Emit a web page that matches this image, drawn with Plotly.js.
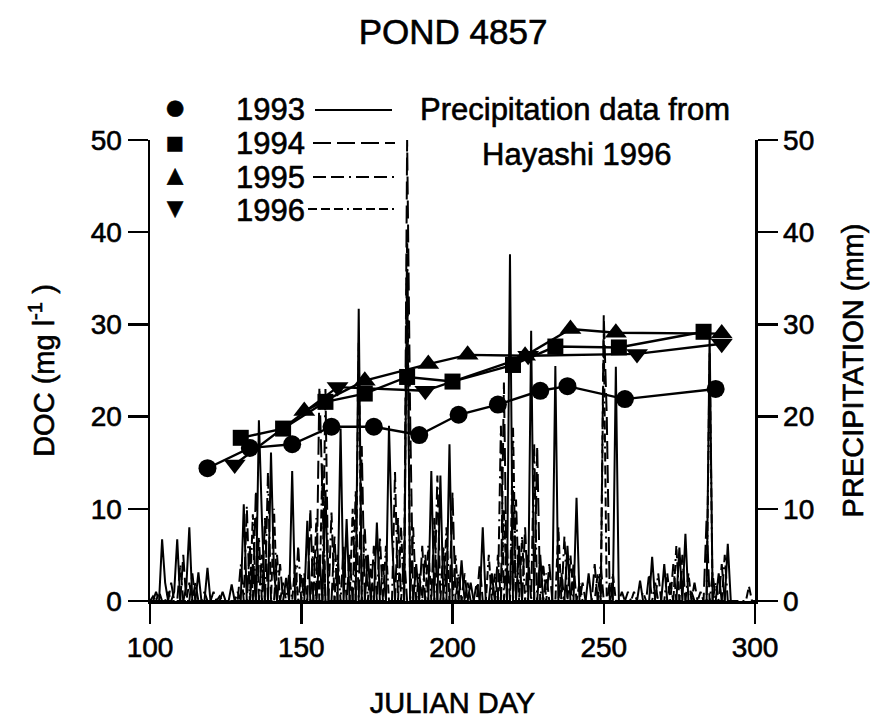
<!DOCTYPE html>
<html><head><meta charset="utf-8">
<script src="https://cdn.plot.ly/plotly-3.0.1.min.js"></script>
<style>html,body{margin:0;padding:0;background:#fff}
#chart svg text{stroke:#000;stroke-width:0.6px;}</style>
</head><body>
<div id="chart" style="width:872px;height:728px"></div>
<script>
// ---- DOC (mg/l) by Julian day ----
const doc1993Day = [119, 133, 147, 160, 174, 189, 202, 215, 229, 238, 257, 287];
const doc1993Val = [14.4, 16.6, 17.0, 18.9, 18.9, 18.0, 20.2, 21.3, 22.8, 23.3, 21.9, 23.0];
const doc1994Day = [130, 144, 158, 171, 185, 200, 220, 234, 255, 283];
const doc1994Val = [17.7, 18.7, 21.6, 22.5, 24.3, 23.8, 25.6, 27.6, 27.5, 29.2];
const doc1995Day = [151, 171, 192, 205, 224, 239, 254, 289];
const doc1995Val = [20.6, 23.9, 25.7, 26.7, 26.6, 29.5, 29.1, 29.0];
const doc1996Day = [128, 162, 191, 225, 261, 289];
const doc1996Val = [14.8, 23.2, 22.8, 26.6, 26.8, 27.9];

// ---- Daily precipitation (mm), rain days only (Hayashi 1996) ----
const rain1993Day = [104,105,108,109,112,113,116,119,127,131,134,136,137,140,141,145,147,152,156,158,163,165,169,172,175,179,180,185,188,193,196,199,203,206,210,213,219,222,226,229,234,238,241,245,254,262,266,270,275,277,285,288,291];
const rain1993Mm  = [6.7,2,1,6.7,1.5,8.0,3.1,3.6,1.8,10.5,4,19.6,8.9,16.1,3,2.5,14.1,8.7,5,12,18.7,8.9,31.7,5,8.5,19.0,7,36,4,14.1,13.6,17,4.4,2,8.0,3,37.6,6,29.3,5,25.5,6,11.2,3,25.4,2.2,4.8,4.0,5.8,7.3,29,3,6.2];
const rain1994Day = [102,107,111,114,118,124,133,135,138,143,150,153,156,157,161,166,170,174,177,182,185,186,190,194,200,204,208,215,217,220,224,228,232,236,243,247,250,251,258,265,272,276,280,284,289];
const rain1994Mm  = [1,2,5,3,1,1,6,12,9,4,3,10,23.2,12,7,5,16.8,6,4,9,50,20,6,9,11.8,3,2,5,23.7,12,8,16.8,4,3,2,4,31,20,1,3,2,5,2,9,4];
const rain1995Day = [103,110,115,121,130,132,136,139,142,146,149,154,158,160,164,168,171,176,181,184,187,191,195,197,202,209,216,218,221,225,227,231,237,240,249,252,256,263,268,273,279,286,290];
const rain1995Mm  = [1,4,2,1,4,10.3,7,14,5,3,6,6,23,9.6,6,12,8,7,14,5,8,5,13.6,6,3,4,19,6,11,5,17,3,7,4,4,2,1,1,3,4,1,3,5];
const rain1996Day = [101,106,113,123,129,134,137,141,144,148,151,155,157,162,167,169,173,178,183,185,189,192,198,201,205,212,214,217,220,223,230,235,239,242,248,250,253,260,267,271,274,278,282,285,287,298];
const rain1996Mm  = [0.5,1,2,0.5,1,9.4,5,10,2,4,3,9,15,5,10,28,4,6,8,40,3,6,8,5,2,5,3,10,19,7,4,8,5,2,3,29,3,1,2,3,6,3,1,27,2,1.6];
const recordFirst = [100, 100, 100, 100];
const recordLast  = [293, 293, 293, 300];

const years = ['1993', '1994', '1995', '1996'];
const ticksX = [100, 150, 200, 250, 300];
const ticksY = [0, 10, 20, 30, 40, 50];

function dailySeries(days, mm, first, last) {
  const m = new Map(days.map((d, i) => [d, mm[i]]));
  const x = [], y = [];
  for (let d = first; d <= last; d++) { x.push(d); y.push(m.has(d) ? m.get(d) : 0); }
  return {x, y};
}

const FONT = 'Arial, "Liberation Sans", Helvetica, sans-serif';
const dashes = ['solid', '18px,6px', '13px,5px,13px,5px,2px,5px', '9px,4px,9px,4px,9px,4px,2px,4px'];
const rainDays = [rain1993Day, rain1994Day, rain1995Day, rain1996Day];
const rainMm = [rain1993Mm, rain1994Mm, rain1995Mm, rain1996Mm];

const traces = [];
for (let i = 0; i < 4; i++) {
  const s = dailySeries(rainDays[i], rainMm[i], recordFirst[i], recordLast[i]);
  traces.push({x: s.x, y: s.y, yaxis: 'y2', type: 'scatter', mode: 'lines',
    line: {color: '#000', width: 2, dash: dashes[i]}, name: 'Precip ' + years[i],
    showlegend: false, hoverinfo: 'skip'});
}
const docDays = [doc1993Day, doc1994Day, doc1995Day, doc1996Day];
const docVals = [doc1993Val, doc1994Val, doc1995Val, doc1996Val];
const symbols = ['circle', 'square', 'triangle-up', 'triangle-down'];
const sizes = [18, 16, 19, 19];
for (let i = 0; i < 4; i++) {
  traces.push({x: docDays[i], y: docVals[i], yaxis: 'y', type: 'scatter', mode: 'lines+markers',
    line: {color: '#000', width: 2.4}, marker: {symbol: symbols[i], size: sizes[i], color: '#000'},
    name: 'DOC ' + years[i], showlegend: false, cliponaxis: false});
}

// layout helpers (pixel -> paper)
const L = 150, R = 755, T = 140, B = 601;
const px = v => (v - L) / (R - L);
const py = v => (B - v) / (B - T);

const glyphs = ['●', '■', '▲', '▼'];
const glyphSize = [21, 19, 21, 21];
const rowY = [107, 142, 175, 208];
const annotations = [];
const shapes = [];
const lineSeg = [[315, 392, 110], [313, 395, 143], [313, 397, 177], [308, 397, 209]];
for (let i = 0; i < 4; i++) {
  annotations.push({xref: 'paper', yref: 'paper', x: px(175), y: py(rowY[i]), text: glyphs[i],
    showarrow: false, xanchor: 'center', yanchor: 'middle',
    font: {family: '"DejaVu Sans", sans-serif', size: glyphSize[i], color: '#000'}});
  annotations.push({xref: 'paper', yref: 'paper', x: px(234), y: py(rowY[i] + 2), text: years[i],
    showarrow: false, xanchor: 'left', yanchor: 'middle', font: {family: FONT, size: 31, color: '#000'}});
  shapes.push({type: 'line', xref: 'paper', yref: 'paper', x0: px(lineSeg[i][0]), x1: px(lineSeg[i][1]),
    y0: py(lineSeg[i][2]), y1: py(lineSeg[i][2]), line: {color: '#000', width: 2, dash: dashes[i]}});
}
annotations.push({xref: 'paper', yref: 'paper', x: px(418), y: py(109), text: 'Precipitation data from',
  showarrow: false, xanchor: 'left', yanchor: 'middle', font: {family: FONT, size: 31, color: '#000'}});
annotations.push({xref: 'paper', yref: 'paper', x: px(577), y: py(154), text: 'Hayashi 1996',
  showarrow: false, xanchor: 'center', yanchor: 'middle', font: {family: FONT, size: 31, color: '#000'}});

const axisCommon = {showline: true, linecolor: '#000', linewidth: 2.5, ticks: 'outside', ticklen: 20,
  tickwidth: 2.5, tickcolor: '#000', showgrid: false, zeroline: false, automargin: false,
  tickfont: {family: FONT, size: 28, color: '#000'}};

const layout = {
  width: 872, height: 728,
  margin: {l: L, r: 872 - R, t: T, b: 728 - B, pad: 0},
  paper_bgcolor: '#fff', plot_bgcolor: '#fff',
  title: {text: 'POND 4857', font: {family: FONT, size: 35, color: '#000'},
    x: px(453), xref: 'paper', xanchor: 'center', y: 1 - 32 / 728, yref: 'container', yanchor: 'middle'},
  xaxis: Object.assign({}, axisCommon, {range: [100, 300], tickvals: ticksX, ticktext: ticksX.map(String),
    title: {text: 'JULIAN DAY', font: {family: FONT, size: 29, color: '#000'}, standoff: 31}}),
  yaxis: Object.assign({}, axisCommon, {range: [0, 50], tickvals: ticksY, ticktext: ticksY.map(String),
    title: {text: 'DOC (mg l<sup>-1</sup> )', font: {family: FONT, size: 29, color: '#000'}, standoff: 28}}),
  yaxis2: Object.assign({}, axisCommon, {range: [0, 50], overlaying: 'y', side: 'right', anchor: 'x',
    tickvals: ticksY, ticktext: ticksY.map(String),
    title: {text: 'PRECIPITATION (mm)', font: {family: FONT, size: 29, color: '#000'}, standoff: 30}}),
  showlegend: false,
  annotations: annotations,
  shapes: shapes
};

Plotly.newPlot('chart', traces, layout, {staticPlot: true, displayModeBar: false});
</script>
</body></html>
